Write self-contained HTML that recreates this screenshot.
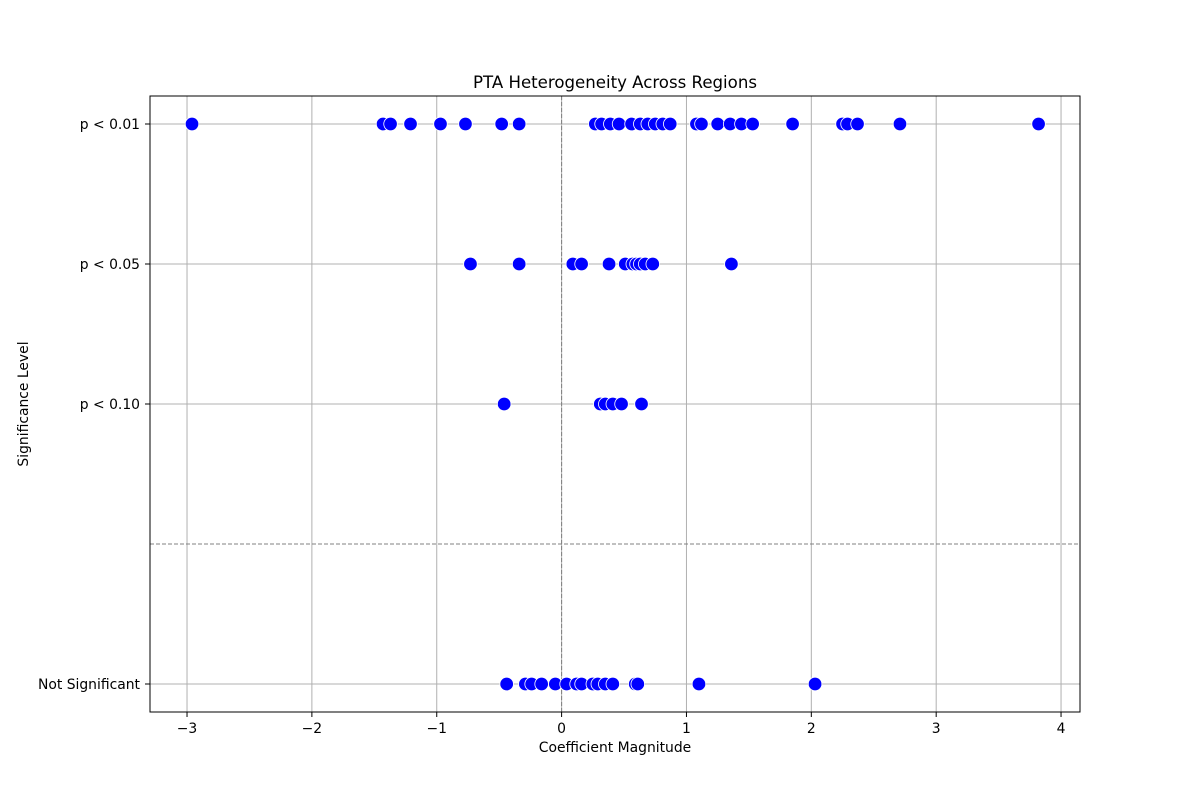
<!DOCTYPE html>
<html><head><meta charset="utf-8"><style>
body{margin:0;background:#fff;}
svg text{font-family:"DejaVu Sans","Liberation Sans",sans-serif;}
</style></head><body>
<svg id="chart" width="1200" height="800">
<rect width="1200" height="800" fill="#fff"/>
<g id="grid"></g>
<g id="marks"></g>
<g id="axes"></g>
<text x="615" y="88" text-anchor="middle" font-size="16.6">PTA Heterogeneity Across Regions</text>
<text x="615" y="752" text-anchor="middle" font-size="13.9">Coefficient Magnitude</text>
<text x="28" y="404" text-anchor="middle" font-size="13.9" transform="rotate(-90 28 404)">Significance Level</text>
</svg>
<script>
const xTicks=[-3,-2,-1,0,1,2,3,4];
const yTickVals=[3,2,1,-1];
const yTickLabels=["p < 0.01","p < 0.05","p < 0.10","Not Significant"];
const sig01=[-2.96,-1.43,-1.37,-1.21,-0.97,-0.77,-0.48,-0.34,0.27,0.32,0.39,0.46,0.56,0.63,0.69,0.75,0.81,0.87,1.08,1.12,1.25,1.35,1.44,1.53,1.85,2.25,2.29,2.37,2.71,3.82];
const sig05=[-0.73,-0.34,0.09,0.16,0.38,0.51,0.57,0.60,0.63,0.67,0.73,1.36];
const sig10=[-0.46,0.31,0.35,0.41,0.48,0.64];
const notSig=[-0.44,-0.29,-0.24,-0.16,-0.05,0.04,0.12,0.16,0.25,0.29,0.35,0.41,0.59,0.61,1.10,2.03];
const L=150,R=1080,T=96,B=712;
const xs=v=>561.6+v*124.86;
const ys=v=>544-v*140;
const NS="http://www.w3.org/2000/svg";
function mk(tag,attrs,parent){const e=document.createElementNS(NS,tag);for(const k in attrs)e.setAttribute(k,attrs[k]);parent.appendChild(e);return e;}
const grid=document.getElementById('grid'),marks=document.getElementById('marks'),axes=document.getElementById('axes');
xTicks.forEach(t=>{
 const l=mk('line',{x1:xs(t),x2:xs(t),y1:T,y2:B,stroke:'#b0b0b0','stroke-width':1},grid);
 
 
 mk('line',{x1:xs(t),x2:xs(t),y1:B,y2:B+5,stroke:'#000'},axes);
 const tx=mk('text',{x:xs(t),y:B+21,'text-anchor':'middle','font-size':13.9},axes);
 tx.textContent=(t<0?'\u2212'+(-t):t);
 
 
});
yTickVals.forEach((v,i)=>{
 const l=mk('line',{x1:L,x2:R,y1:ys(v),y2:ys(v),stroke:'#b0b0b0','stroke-width':1},grid);
 
 
 mk('line',{x1:L-5,x2:L,y1:ys(v),y2:ys(v),stroke:'#000'},axes);
 const tx=mk('text',{x:L-10,y:ys(v)+5,'text-anchor':'end','font-size':13.9},axes);
 tx.textContent=yTickLabels[i];
 
 
});
const vz=mk('line',{x1:xs(0),x2:xs(0),y1:T,y2:B,stroke:'#808080','stroke-dasharray':'4,2'},grid);


const hz=mk('line',{x1:L,x2:R,y1:ys(0),y2:ys(0),stroke:'#808080','stroke-dasharray':'4,2'},grid);


[[sig01,3],[sig05,2],[sig10,1],[notSig,-1]].forEach(([arr,lv])=>{
 arr.forEach(v=>{
  const c=mk('circle',{cx:xs(v),cy:ys(lv),r:6.8,fill:'#0000ff',stroke:'#fff','stroke-width':0.8},marks);
  
  
 });
});
const fr=mk('rect',{x:L,y:T,width:R-L,height:B-T,fill:'none',stroke:'#000','stroke-width':1},axes);


</script>
</body></html>
